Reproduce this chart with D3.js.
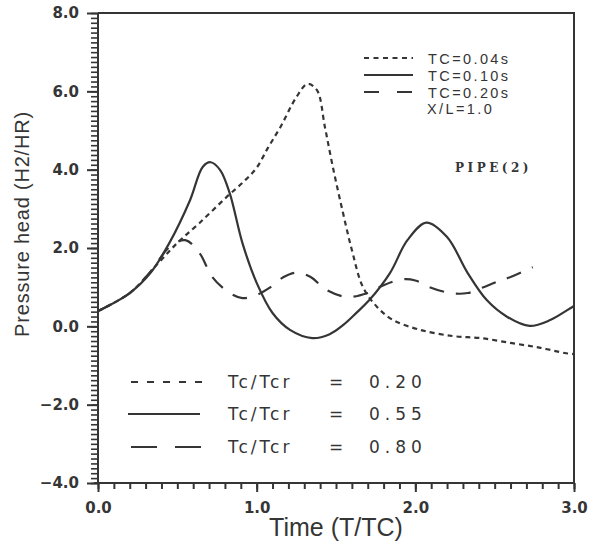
<!DOCTYPE html>
<html>
<head>
<meta charset="utf-8">
<script src="https://cdn.jsdelivr.net/npm/d3@7"></script>
<style>
  html, body { margin: 0; padding: 0; background: #fff; }
  svg { display: block; }
</style>
</head>
<body>
<svg id="chart" width="600" height="549"></svg>
<script>
// Dimensionless time T/TC
const tc004X = [0, 0.20, 0.37, 0.50, 0.64, 0.81, 0.92, 1.00, 1.07, 1.15, 1.25, 1.32, 1.38, 1.43, 1.48, 1.54, 1.60, 1.67, 1.76, 1.86, 2.03, 2.24, 2.41, 2.61, 2.79, 2.94, 3.00];
const tc004Y = [0.39, 0.85, 1.57, 2.13, 2.64, 3.30, 3.70, 4.05, 4.55, 5.09, 5.85, 6.19, 6.03, 5.09, 4.07, 2.97, 1.95, 1.00, 0.49, 0.16, -0.09, -0.25, -0.30, -0.43, -0.55, -0.68, -0.71];

const tc010X = [0, 0.20, 0.33, 0.45, 0.58, 0.66, 0.71, 0.77, 0.83, 0.91, 1.00, 1.10, 1.21, 1.35, 1.46, 1.55, 1.63, 1.71, 1.84, 1.95, 2.07, 2.20, 2.33, 2.45, 2.58, 2.72, 2.85, 2.96, 3.00];
const tc010Y = [0.39, 0.85, 1.36, 2.13, 3.22, 4.07, 4.19, 3.99, 3.40, 2.13, 1.11, 0.34, -0.09, -0.30, -0.20, 0.05, 0.35, 0.67, 1.36, 2.20, 2.65, 2.28, 1.36, 0.67, 0.24, 0.01, 0.16, 0.42, 0.52];

const tc020X = [0, 0.20, 0.33, 0.45, 0.55, 0.64, 0.72, 0.83, 0.91, 1.00, 1.08, 1.17, 1.25, 1.34, 1.44, 1.57, 1.70, 1.80, 1.92, 2.00, 2.09, 2.22, 2.33, 2.43, 2.51, 2.60, 2.74];
const tc020Y = [0.39, 0.85, 1.39, 2.02, 2.20, 1.87, 1.26, 0.85, 0.72, 0.80, 0.98, 1.26, 1.37, 1.26, 0.93, 0.75, 0.85, 1.05, 1.20, 1.17, 1.00, 0.85, 0.85, 1.00, 1.13, 1.26, 1.51];

const xTickLabels = ["0.0", "1.0", "2.0", "3.0"];
const yTickLabels = ["-4.0", "-2.0", "0.0", "2.0", "4.0", "6.0", "8.0"];

const topLegend = ["TC=0.04s", "TC=0.10s", "TC=0.20s"];
const ratioNames = ["Tc/Tcr", "Tc/Tcr", "Tc/Tcr"];
const ratioValues = ["0.20", "0.55", "0.80"];

const ink = "#353535";
const dashes = ["5,4", null, "15,12"];

const svg = d3.select("#chart");
const plotLeft = 98, plotTop = 13, plotRight = 574, plotBottom = 483;

const x = d3.scaleLinear().domain([0, 3]).range([plotLeft, plotRight]);
const y = d3.scaleLinear().domain([-4, 8]).range([plotBottom, plotTop]);

// Frame (top and right edges)
svg.append("path")
  .attr("d", `M${plotLeft},${plotTop}H${plotRight}V${plotBottom}`)
  .attr("fill", "none").attr("stroke", ink).attr("stroke-width", 2);

// X axis: minor ticks every 0.1, labelled majors every 1.0
const xMinor = d3.range(0, 31).map(i => i / 10);
const xAxis = d3.axisBottom(x).tickValues(xMinor).tickSize(6).tickFormat("");
const gx = svg.append("g").attr("transform", `translate(0,${plotBottom})`).call(xAxis);
gx.select(".domain").attr("stroke", ink).attr("stroke-width", 2).attr("d", `M${plotLeft - 4},0H${plotRight}`);
gx.selectAll(".tick line").attr("stroke", ink).attr("stroke-width", 2);
const xMajor = d3.axisBottom(x).tickValues([0, 1, 2, 3]).tickSize(9)
  .tickFormat((d, i) => xTickLabels[i]).tickPadding(7);
const gx2 = svg.append("g").attr("transform", `translate(0,${plotBottom})`).call(xMajor);
gx2.select(".domain").remove();
gx2.selectAll(".tick line").attr("stroke", ink).attr("stroke-width", 2);
gx2.selectAll(".tick text")
  .style("font-family", "DejaVu Sans").style("font-weight", "bold").style("font-size", "15px")
  .attr("fill", ink).attr("dy", "0.9em");

// Y axis: minor ticks every 0.125, labelled majors every 2.0
const yMinor = d3.range(0, 97).map(i => -4 + i / 8);
const yAxis = d3.axisLeft(y).tickValues(yMinor).tickSize(7).tickFormat("");
const gy = svg.append("g").attr("transform", `translate(${plotLeft},0)`).call(yAxis);
gy.select(".domain").attr("stroke", ink).attr("stroke-width", 2).attr("d", `M0,${plotTop}V${plotBottom}`);
gy.selectAll(".tick line").attr("stroke", ink).attr("stroke-width", 1.6);
const yMajor = d3.axisLeft(y).tickValues([-4, -2, 0, 2, 4, 6, 8]).tickSize(11)
  .tickFormat((d, i) => yTickLabels[i].replace("-", "\u2212")).tickPadding(8);
const gy2 = svg.append("g").attr("transform", `translate(${plotLeft},0)`).call(yMajor);
gy2.select(".domain").remove();
gy2.selectAll(".tick line").attr("stroke", ink).attr("stroke-width", 2);
gy2.selectAll(".tick text")
  .style("font-family", "DejaVu Sans").style("font-weight", "bold").style("font-size", "15px")
  .attr("fill", ink);

// Axis titles
svg.append("text")
  .attr("x", 336).attr("y", 536).attr("text-anchor", "middle")
  .style("font-family", "Liberation Sans, Arial, sans-serif").style("font-size", "25px")
  .attr("fill", ink).text("Time  (T/TC)");
svg.append("text")
  .attr("transform", "translate(29,224) rotate(-90)").attr("text-anchor", "middle")
  .style("font-family", "Liberation Sans, Arial, sans-serif").style("font-size", "20px")
  .attr("letter-spacing", 0.8)
  .attr("fill", ink).text("Pressure head (H2/HR)");

// Curves
const line = d3.line().x(d => x(d[0])).y(d => y(d[1])).curve(d3.curveCatmullRom.alpha(0.5));
const series = [
  d3.zip(tc004X, tc004Y),
  d3.zip(tc010X, tc010Y),
  d3.zip(tc020X, tc020Y)
];
series.forEach((pts, i) => {
  svg.append("path")
    .attr("d", line(pts))
    .attr("fill", "none").attr("stroke", ink).attr("stroke-width", 2.2)
    .attr("stroke-dasharray", dashes[i]);
});

// Legend, upper right
const legY = [58, 75, 92];
topLegend.forEach((t, i) => {
  svg.append("line")
    .attr("x1", 364).attr("x2", 413).attr("y1", legY[i]).attr("y2", legY[i])
    .attr("stroke", ink).attr("stroke-width", 2)
    .attr("stroke-dasharray", i === 0 ? "5,4.5" : i === 2 ? "15,18" : null);
  svg.append("text")
    .attr("x", 428).attr("y", legY[i] + 5.5)
    .style("font-family", "Liberation Sans, Arial, sans-serif").style("font-size", "14.5px")
    .attr("letter-spacing", 2.4)
    .attr("fill", ink).text(t);
});
svg.append("text")
  .attr("x", 427).attr("y", 114)
  .style("font-family", "Liberation Sans, Arial, sans-serif").style("font-size", "14.5px")
  .attr("letter-spacing", 2.4)
  .attr("fill", ink).text("X/L=1.0");
svg.append("text")
  .attr("x", 455).attr("y", 172)
  .style("font-family", "DejaVu Serif").style("font-weight", "bold").style("font-size", "12px")
  .attr("letter-spacing", 3.5)
  .attr("fill", ink).text("PIPE(2)");

// Legend, lower left
const botY = [382, 414, 447];
ratioValues.forEach((v, i) => {
  svg.append("line")
    .attr("x1", i === 1 ? 128 : 131).attr("x2", i === 1 ? 200 : 206)
    .attr("y1", botY[i]).attr("y2", botY[i])
    .attr("stroke", ink).attr("stroke-width", 2)
    .attr("stroke-dasharray", i === 0 ? "7,9" : i === 2 ? "26,18" : null);
  const g = svg.append("g")
    .style("font-family", "DejaVu Sans").style("font-size", "17px")
    .attr("fill", ink);
  g.append("text").attr("x", 228).attr("y", botY[i] + 6).attr("letter-spacing", 3).text(ratioNames[i]);
  g.append("text").attr("x", 329).attr("y", botY[i] + 6).text("=");
  g.append("text").attr("x", 369).attr("y", botY[i] + 6).attr("letter-spacing", 5).text(v);
});
</script>
</body>
</html>
